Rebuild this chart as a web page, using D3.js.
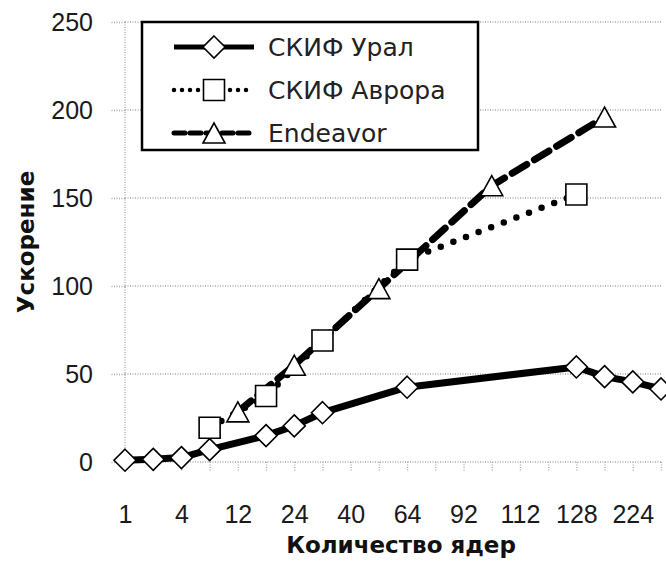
<!DOCTYPE html>
<html>
<head>
<meta charset="utf-8">
<script src="https://cdn.jsdelivr.net/npm/d3@7"></script>
<style>
  body{ margin:0; background:#fff; }
  svg{ display:block; font-family:'DejaVu Sans', Verdana, sans-serif; }
  .grid line{ stroke:#aaa; stroke-width:1.3; stroke-dasharray:1 1.5; }
  .axis path{ display:none; }
  .axis line{ stroke:#aaa; stroke-width:1.3; stroke-dasharray:1 1.5; }
  .axis text{ font-size:25px; fill:#1a1a1a; }
</style>
</head>
<body>
<script>
(function(){
// x categories (cores), only every second one is labelled
var categories = ['1','2','4','8','12','16','24','32','40','48','64','80','92','96','112','120','128','192','224','256'];
var yTicks = [0, 50, 100, 150, 200, 250];

var seriesNames = ['СКИФ Урал', 'СКИФ Аврора', 'Endeavor'];
var uralCores = ['1','2','4','8','16','24','32','64','128','192','224','256'];
var uralSpeedup = [1, 1.5, 2.5, 7, 15, 20.5, 28, 42.5, 54, 48.5, 45.5, 41.5];
var auroraCores = ['8','16','32','64','128'];
var auroraSpeedup = [19.5, 37.5, 69, 115, 152];
var endeavorCores = ['12','24','48','96','192'];
var endeavorSpeedup = [28.5, 55, 98.5, 157, 196];

var W = 666, H = 561,
  left = 125, right = 661, top = 22, bottom = 462,
  x = d3.scalePoint().domain(categories).range([left, right]),
  y = d3.scaleLinear().domain([0, 250]).range([bottom, top]),
  svg = d3.select('body').append('svg').attr('width', W).attr('height', H),
  zip = function(cores, vals){
    return cores.map(function(c, i){ return {c: c, v: vals[i]}; });
  },
  marker = {
    diamond: function(cx, cy){
      var r = 11;
      return 'M' + cx + ',' + (cy - r) + 'L' + (cx + r) + ',' + cy + 'L' + cx + ',' + (cy + r) + 'L' + (cx - r) + ',' + cy + 'Z';
    },
    square: function(cx, cy){
      var r = 10.5;
      return 'M' + (cx - r) + ',' + (cy - r) + 'h' + 2 * r + 'v' + 2 * r + 'h' + (-2 * r) + 'Z';
    },
    triangle: function(cx, cy){
      var r = 11, h = 10;
      return 'M' + cx + ',' + (cy - h) + 'L' + (cx + r) + ',' + (cy + h) + 'L' + (cx - r) + ',' + (cy + h) + 'Z';
    }
  },
  series = [
    {name: seriesNames[0], data: zip(uralCores, uralSpeedup), marker: 'diamond', width: 7, dash: null, cap: 'butt'},
    {name: seriesNames[1], data: zip(auroraCores, auroraSpeedup), marker: 'square', width: 6.5, dash: '0 13.5', cap: 'round'},
    {name: seriesNames[2], data: zip(endeavorCores, endeavorSpeedup), marker: 'triangle', width: 7, dash: '17 9', cap: 'round'}
  ];

// horizontal gridlines
svg.append('g').attr('class', 'grid')
  .selectAll('line').data(yTicks.slice(1)).enter().append('line')
  .attr('x1', left).attr('x2', right)
  .attr('y1', function(d){ return y(d); }).attr('y2', function(d){ return y(d); });

// axes
svg.append('g').attr('class', 'axis')
  .attr('transform', 'translate(' + left + ',0)')
  .call(d3.axisLeft(y).tickValues(yTicks).tickSize(14).tickPadding(18));
svg.append('g').attr('class', 'axis')
  .attr('transform', 'translate(0,' + bottom + ')')
  .call(d3.axisBottom(x).tickSize(10).tickPadding(33)
    .tickFormat(function(d, i){ return i % 2 ? '' : d; }));
svg.append('line')
  .attr('x1', left).attr('x2', left).attr('y1', top).attr('y2', bottom)
  .attr('stroke', '#aaa').attr('stroke-width', 1.3).attr('stroke-dasharray', '1 1.5');
svg.append('line')
  .attr('x1', left).attr('x2', right).attr('y1', bottom).attr('y2', bottom)
  .attr('stroke', '#aaa').attr('stroke-width', 1.3).attr('stroke-dasharray', '1 1.5');

// axis titles
svg.append('text').text('Ускорение')
  .attr('transform', 'translate(34,242) rotate(-90)')
  .attr('text-anchor', 'middle').attr('font-weight', 'bold').attr('font-size', 23).attr('fill', '#111');
svg.append('text').text('Количество ядер')
  .attr('x', 401).attr('y', 553)
  .attr('text-anchor', 'middle').attr('font-weight', 'bold').attr('font-size', 23).attr('fill', '#111');

// lines first, then markers on top
var line = d3.line()
  .x(function(d){ return x(d.c); })
  .y(function(d){ return y(d.v); });

series.forEach(function(s){
  svg.append('path').datum(s.data)
    .attr('d', line).attr('fill', 'none').attr('stroke', '#000')
    .attr('stroke-width', s.width).attr('stroke-dasharray', s.dash)
    .attr('stroke-linecap', s.cap).attr('stroke-linejoin', 'round');
});
series.forEach(function(s){
  svg.append('g').selectAll('path').data(s.data).enter().append('path')
    .attr('d', function(d){ return marker[s.marker](x(d.c), y(d.v)); })
    .attr('fill', '#fff').attr('stroke', '#000').attr('stroke-width', 1.6);
});

// legend
var lg = svg.append('g').attr('class', 'legend');
lg.append('rect').attr('x', 142).attr('y', 22).attr('width', 336).attr('height', 128)
  .attr('fill', '#fff').attr('stroke', '#000').attr('stroke-width', 2.5);
series.forEach(function(s, i){
  var ry = 47 + i * 43;
  lg.append('line').attr('x1', 174).attr('x2', 254).attr('y1', ry).attr('y2', ry)
    .attr('stroke', '#000').attr('stroke-width', s.width - 2)
    .attr('stroke-dasharray', s.dash ? (s.marker === 'square' ? '0 8' : '11 5') : null)
    .attr('stroke-linecap', s.cap);
  lg.append('path').attr('d', marker[s.marker](214, ry))
    .attr('fill', '#fff').attr('stroke', '#000').attr('stroke-width', 1.6);
  lg.append('text').text(s.name).attr('x', 268).attr('y', ry + 9)
    .attr('font-size', 25).attr('fill', '#222');
});
})();
</script>
</body>
</html>
